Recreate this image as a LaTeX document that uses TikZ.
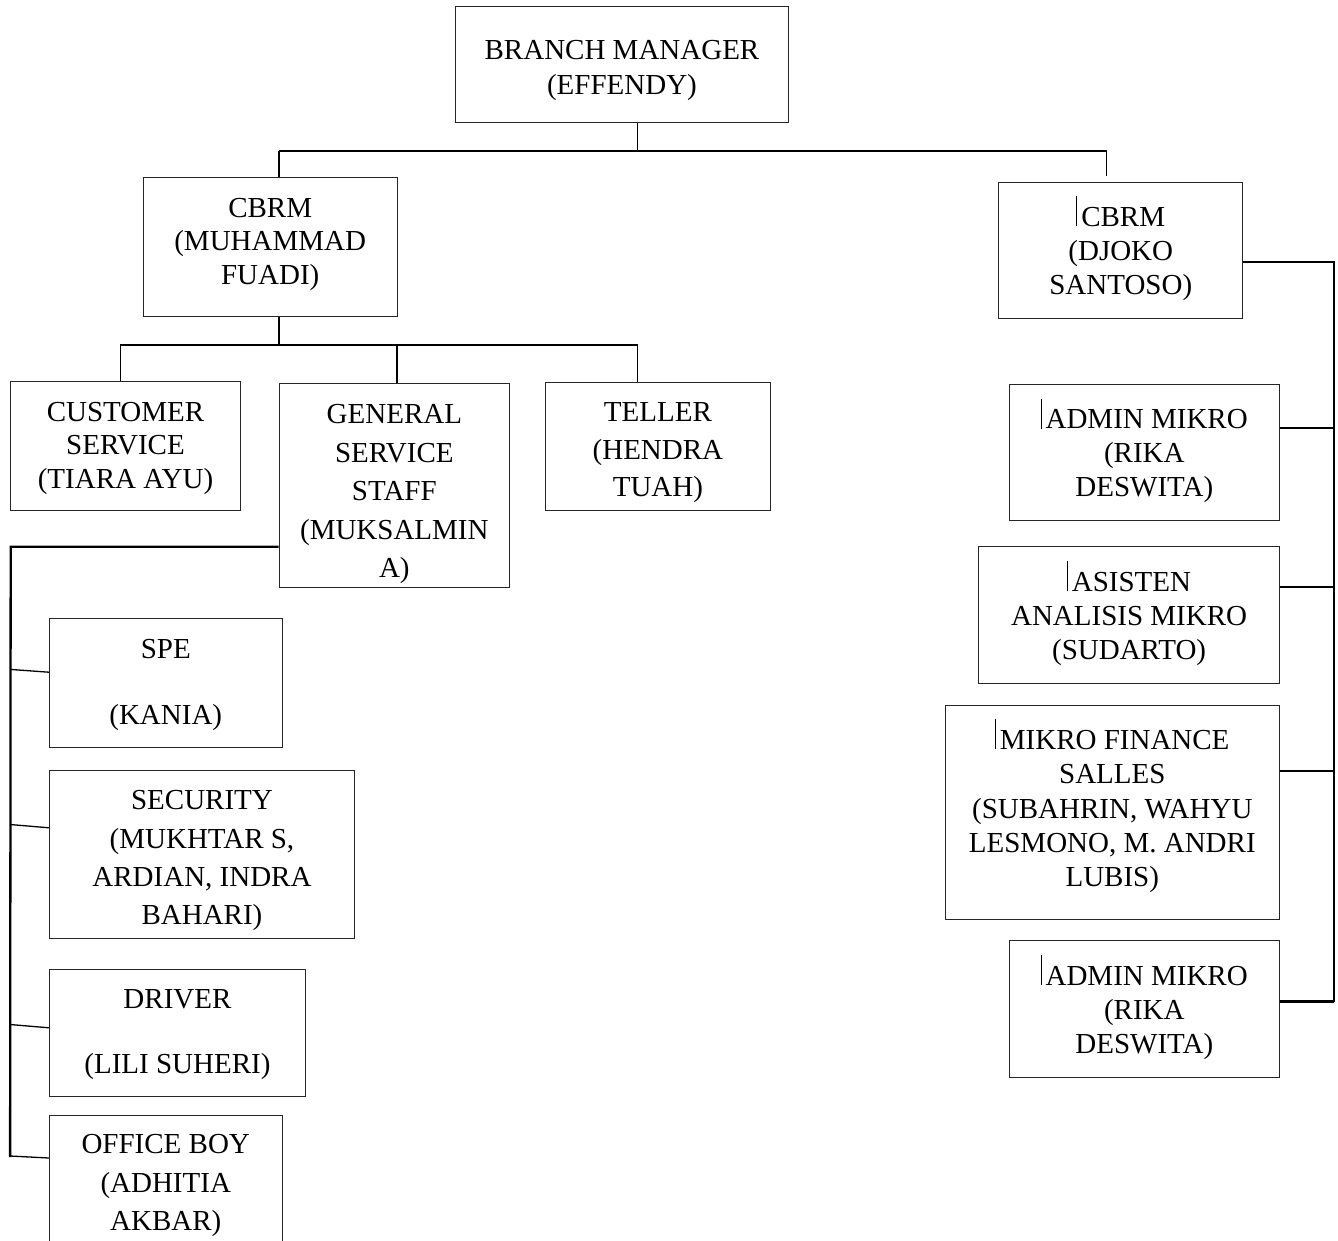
\documentclass[tikz,border=0pt]{standalone}
\usepackage{fontspec}
\setmainfont{Liberation Serif}
\usetikzlibrary{calc}

\newcommand{\unittext}[3]{\raisebox{#1pt}[0pt][0pt]{\fontsize{29}{#2}\selectfont\begin{tabular}{@{}c@{}}#3\end{tabular}}}
\newcommand{\cursorbar}{\raisebox{0pt}[0pt][0pt]{\rule{0.8pt}{30pt}}\hspace{4pt}}

\tikzset{
  unit/.style={draw=black!85, line width=1pt, inner sep=0pt},
  twig/.style={line width=1.3pt},
  trunk/.style={line width=2.3pt},
}

\begin{document}
\begin{tikzpicture}[x=1pt,y=-1pt]
        \useasboundingbox (0,0) rectangle (1338,1240);

        % top and first level
        \node[unit, minimum width=332.7, minimum height=115.9] (bm) at (622,64.5) {\unittext{-11.7}{34.4}{BRANCH MANAGER\\(EFFENDY)}};
        \node[unit, minimum width=253.6, minimum height=138.8] (cbrmL) at (270.2,247.2) {\unittext{-3}{33.7}{CBRM\\(MUHAMMAD\\FUADI)}};
        \node[unit, minimum width=244.1, minimum height=135.7] (cbrmR) at (1120.75,250.75) {\unittext{-8.9}{34}{\cursorbar CBRM\\(DJOKO\\SANTOSO)}};

        % under cbrm muhammad fuadi
        \node[unit, minimum width=229.6, minimum height=128.9] (cs) at (125.5,446) {\unittext{-8.4}{33.5}{CUSTOMER\\SERVICE\\(TIARA AYU)}};
        \node[unit, minimum width=230.7, minimum height=203.4] (gs) at (394.35,485.3) {\unittext{-13.9}{38.5}{GENERAL\\SERVICE\\STAFF\\(MUKSALMIN\\A)}};
        \node[unit, minimum width=225, minimum height=128.1] (teller) at (657.9,446.45) {\unittext{-11.5}{37.4}{TELLER\\(HENDRA\\TUAH)}};

        % under general service staff
        \node[unit, minimum width=232.5, minimum height=128.6] (spe) at (165.75,682.7) {\unittext{-1.8}{65.5}{SPE\\(KANIA)}};
        \node[unit, minimum width=305, minimum height=167.4] (sec) at (202,854.3) {\unittext{-11.6}{38.4}{SECURITY\\(MUKHTAR S,\\ARDIAN, INDRA\\BAHARI)}};
        \node[unit, minimum width=255.9, minimum height=127.3] (drv) at (177.45,1033) {\unittext{-1.4}{65}{DRIVER\\(LILI SUHERI)}};
        \node[unit, minimum width=232.5, minimum height=135] (ob) at (165.75,1182.5) {\unittext{-8.1}{38.4}{OFFICE BOY\\(ADHITIA\\AKBAR)}};

        % under cbrm djoko santoso
        \node[unit, minimum width=270.6, minimum height=136.1] (adm1) at (1144.3,452.35) {\unittext{-9.6}{33.8}{\cursorbar ADMIN MIKRO\\(RIKA\\DESWITA)}};
        \node[unit, minimum width=301, minimum height=137.6] (asis) at (1129.1,614.8) {\unittext{-9.9}{34}{\cursorbar ASISTEN\\ANALISIS MIKRO\\(SUDARTO)}};
        \node[unit, minimum width=334.6, minimum height=213.2] (mf) at (1112.3,812.4) {\unittext{-5}{34.3}{\cursorbar MIKRO FINANCE\\SALLES\\(SUBAHRIN, WAHYU\\LESMONO, M. ANDRI\\LUBIS)}};
        \node[unit, minimum width=270.6, minimum height=137.7] (adm2) at (1144.3,1008.85) {\unittext{-9.9}{34.4}{\cursorbar ADMIN MIKRO\\(RIKA\\DESWITA)}};

        % lines from branch manager
        \coordinate (lj) at (279,151);
        \coordinate (rj) at (1106.7,151);
        \coordinate (rend) at (1106.7,176.4);
        \draw[twig] (bm.south -| 637.8,0) -- (637.8,151);
        \draw[trunk] (lj) -- (rj);
        \draw[twig] (lj) -- (lj |- cbrmL.north);
        \draw[twig] (rj) -- (rend);

        % lines from cbrm muhammad fuadi
        \coordinate (mj) at (279,345.3);
        \draw[twig] (cbrmL.south -| mj) -- (mj);
        \draw[trunk] (120.4,345.3) -- (637.8,345.3);
        \foreach \x/\n in {120.4/cs,397/gs,637.8/teller}
          \draw[twig] (\x,345.3) -- (\n.north -| \x,0);

        % lines from general service staff
        \draw[trunk] (gs.west |- 0,546.8) -- (10.7,546.8) -- (10.1,1157);
        \foreach \n/\a/\b in {spe/669.4/672.2,sec/824.5/827.8,drv/1024.5/1027.8,ob/1156/1158}
          \draw[twig] (10.1,\a) -- (\n.west |- 0,\b);

        % lines from cbrm djoko santoso
        \draw[trunk] (cbrmR.east |- 0,262) -- (1333.8,262) -- (1333.8,1001.5);
        \foreach \n/\y in {adm1/428.2,asis/587,mf/771.3,adm2/1001.5}
          \draw[trunk] (\n.east |- 0,\y) -- (1333.8,\y);
\end{tikzpicture}
\end{document}
